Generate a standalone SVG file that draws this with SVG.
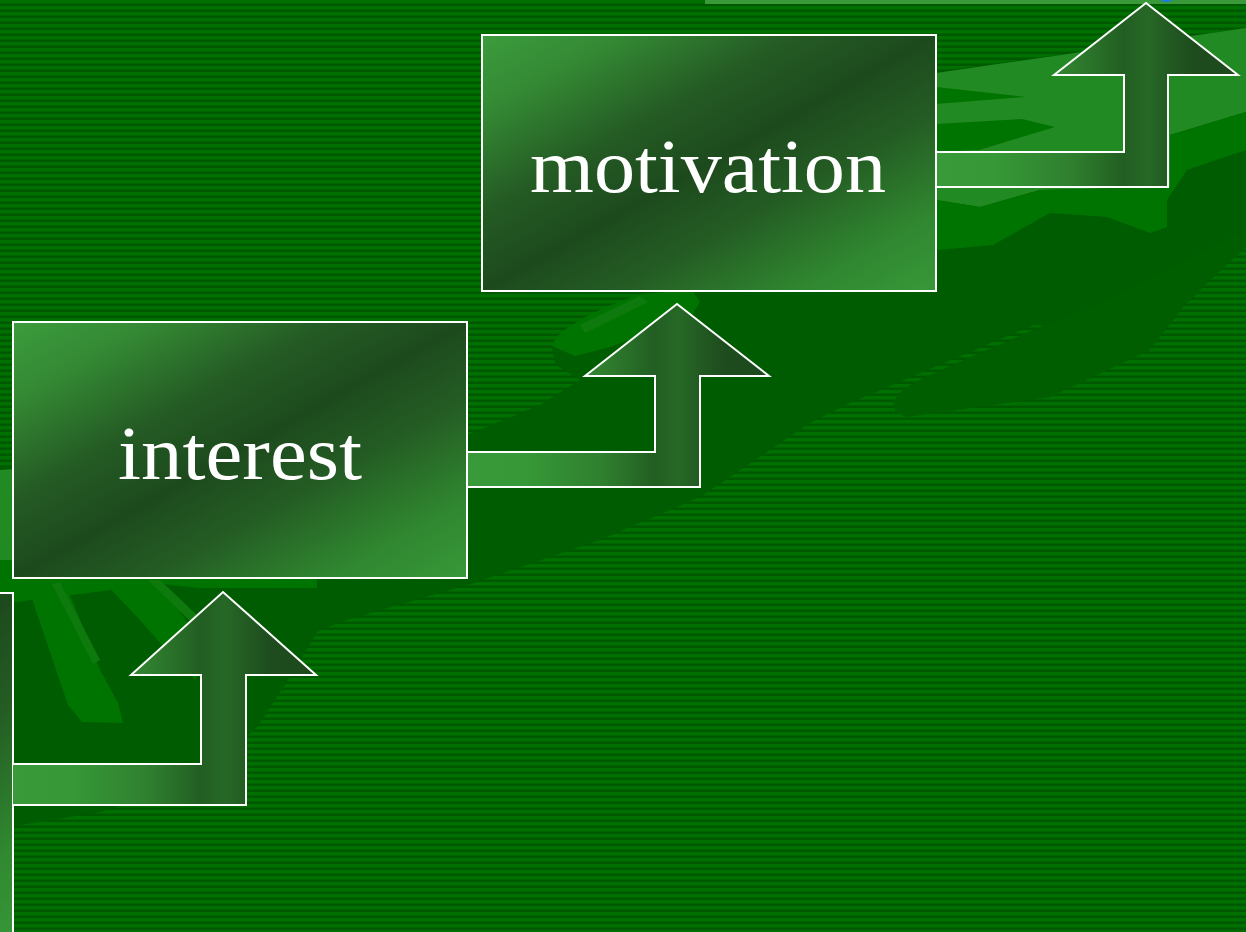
<svg xmlns="http://www.w3.org/2000/svg" width="1246" height="932" viewBox="0 0 1246 932">
  <defs>
    <pattern id="stripes" width="6" height="6" patternUnits="userSpaceOnUse">
      <rect x="0" y="0" width="6" height="6" fill="#007000"/>
      <rect x="0" y="3" width="6" height="1" fill="#006200"/>
      <rect x="0" y="4" width="6" height="2" fill="#005800"/>
    </pattern>
    <linearGradient id="boxGrad" x1="0" y1="0" x2="1" y2="1">
      <stop offset="0" stop-color="#3C9C3C"/>
      <stop offset="0.15" stop-color="#348A34"/>
      <stop offset="0.35" stop-color="#245A24"/>
      <stop offset="0.5" stop-color="#1D4A1D"/>
      <stop offset="0.65" stop-color="#245C24"/>
      <stop offset="0.85" stop-color="#308830"/>
      <stop offset="1" stop-color="#389838"/>
    </linearGradient>
    <linearGradient id="arrowGrad" x1="0" y1="0" x2="1" y2="0">
      <stop offset="0" stop-color="#389A38"/>
      <stop offset="0.2" stop-color="#369836"/>
      <stop offset="0.45" stop-color="#2F7F2F"/>
      <stop offset="0.62" stop-color="#225E22"/>
      <stop offset="0.7" stop-color="#266826"/>
      <stop offset="0.85" stop-color="#1E4C1E"/>
      <stop offset="1" stop-color="#1E4A1E"/>
    </linearGradient>
    <style>
      .box { fill: url(#boxGrad); stroke: #FFFFFF; stroke-width: 2; }
      .arrow { fill: url(#arrowGrad); stroke: #FFFFFF; stroke-width: 2; stroke-linejoin: miter; }
      .label { font-family: "Liberation Serif", "DejaVu Serif", serif; font-size: 76px; fill: #FFFFFF; text-anchor: middle; }
      .palm { fill: #005C00; }
      .thumb { fill: #005E00; }
      .finger { fill: #007400; }
      .light { fill: #228A22; }
      .hl { fill: #0E7A0E; }
    </style>
  </defs>

  <!-- background -->
  <rect x="0" y="0" width="1246" height="932" fill="url(#stripes)"/>

  <g id="background-hand">
    <path class="palm" d="M0,466 L300,445 L467,435 L540,405 L580,380 L556,365 L552,348 L600,310 L700,290 L936,72 L1246,28 L1246,245 L1183,307 L1100,330 L1033,325 L850,403 L810,423 L700,497 L600,540 L467,585 L340,622 L317,632 L290,677 L257,727 L200,780 L100,812 L15,826 L0,828 Z"/>
    <path class="thumb" d="M907,417 C884,410 890,392 930,375 L1033,330 L1110,300 L1246,230 L1246,247 L1217,273 L1183,307 L1150,350 L1050,397 Z"/>
    <path class="light" d="M936,73 L1246,28 L1246,112 L1170,135 L1170,187 L1040,190 L980,207 L936,200 Z"/>
    <path class="finger" d="M936,200 L980,207 L1040,190 L1170,187 L1170,135 L1246,112 L1246,150 L1187,170 L1167,200 L1167,227 L1150,233 L1107,217 L1050,213 L993,245 L937,250 Z"/>
    <path class="finger" d="M936,87 L1026,97 L936,104 Z"/>
    <path class="finger" d="M936,124 L1022,119 L1055,127 L979,150 L936,152 Z"/>
    <path class="finger" d="M552,346 C556,330 590,312 640,294 L692,290 L700,302 L690,318 L650,333 L610,347 L575,356 Z"/>
    <path class="hl" d="M580,325 L640,296 L648,302 L585,333 Z"/>
    <path class="light" d="M0,470 L120,462 L120,560 L0,560 Z"/>
    <path class="finger" d="M0,560 L200,560 L317,578 L317,588 L200,588 L160,584 L0,604 Z"/>
    <path class="finger" d="M30,578 L67,588 L83,627 L100,670 L118,703 L123,723 L82,722 L68,705 L33,602 Z"/>
    <path class="hl" d="M52,584 L60,582 L100,660 L93,664 Z"/>
    <path class="finger" d="M100,578 L150,578 L175,605 L200,640 L196,680 L175,660 L140,620 Z"/>
    <path class="hl" d="M148,580 L160,580 L200,618 L195,626 Z"/>
  </g>

  <!-- partially visible boxes at the edges -->
  <g id="node-top-partial">
    <rect x="705" y="-20" width="560" height="24" fill="#3A9A3A"/>
    <path d="M1160,0 Q1166,4 1173,0 Z" fill="#1E78E6"/>
  </g>
  <g id="node-left-partial">
    <rect class="box" x="-441" y="593" width="454" height="360"/>
  </g>

  <!-- connectors -->
  <g id="connectors">
    <path class="arrow" d="M13,764 L201,764 L201,675 L131,675 L223,592 L316,675 L246,675 L246,805 L13,805"/>
    <path class="arrow" d="M467,452 L655,452 L655,376 L585,376 L677,304 L769,376 L700,376 L700,487 L467,487"/>
    <path class="arrow" d="M936,152 L1124,152 L1124,75 L1054,75 L1146,3 L1238,75 L1168,75 L1168,187 L936,187"/>
  </g>

  <g id="node-interest">
    <rect class="box" x="13" y="322" width="454" height="256"/>
    <text class="label" x="240" y="479" textLength="244" lengthAdjust="spacingAndGlyphs">interest</text>
  </g>

  <g id="node-motivation">
    <rect class="box" x="482" y="35" width="454" height="256"/>
    <text class="label" x="708" y="192" textLength="356" lengthAdjust="spacingAndGlyphs">motivation</text>
  </g>
</svg>
